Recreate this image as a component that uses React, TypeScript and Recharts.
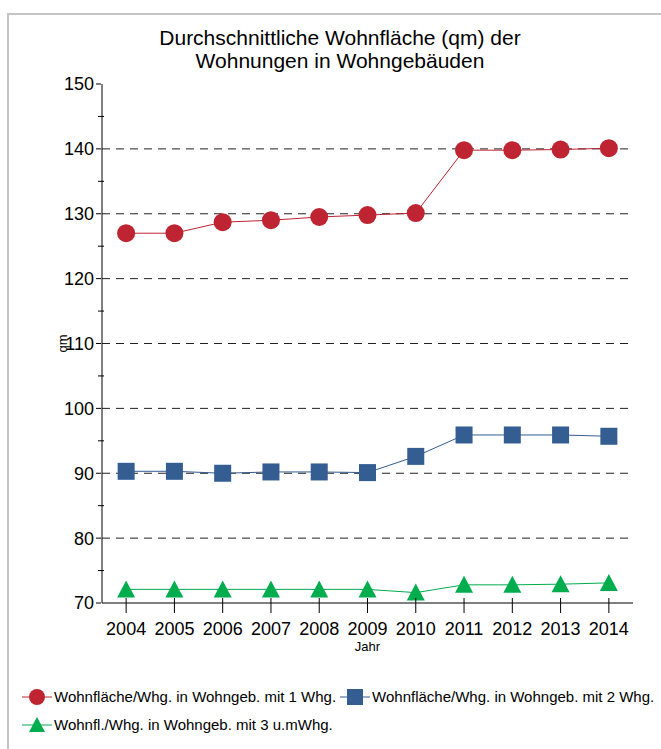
import { LineChart, Line, XAxis, YAxis, ReferenceLine } from 'recharts'

const years = ['2004', '2005', '2006', '2007', '2008', '2009', '2010', '2011', '2012', '2013', '2014']
const einWhg = [127.0, 127.0, 128.7, 129.0, 129.5, 129.8, 130.1, 139.8, 139.8, 139.9, 140.1]
const zweiWhg = [90.3, 90.3, 90.0, 90.2, 90.2, 90.1, 92.6, 95.9, 95.9, 95.9, 95.7]
const dreiWhg = [72.1, 72.1, 72.1, 72.1, 72.1, 72.1, 71.6, 72.8, 72.8, 72.9, 73.1]
const yTicks = [70, 75, 80, 85, 90, 95, 100, 105, 110, 115, 120, 125, 130, 135, 140, 145, 150]
const gridValues = [80, 90, 100, 110, 120, 130, 140]

const RED = '#be2431'
const BLUE = '#345d92'
const GREEN = '#00ad4e'
const FONT = '"Liberation Sans", Arial, sans-serif'

const data = years.map((year, i) => ({
  year,
  ein: einWhg[i],
  zwei: zweiWhg[i],
  drei: dreiWhg[i],
}))

function YTick({ x, y, payload }: any) {
  const ax = x + 7
  const major = payload.value % 10 === 0
  return (
    <g>
      {major ? (
        <line x1={ax - 5} x2={ax} y1={y} y2={y} stroke="#000" />
      ) : (
        <line x1={ax - 3} x2={ax + 3} y1={y} y2={y} stroke="#000" />
      )}
      {major && (
        <text x={x} y={y} dy="0.36em" textAnchor="end" fontSize={18} fontFamily={FONT} fill="#000">
          {payload.value}
        </text>
      )}
    </g>
  )
}

function XTick({ x, y, payload }: any) {
  const ay = y - 7
  return (
    <g>
      <line x1={x} x2={x} y1={ay - 6} y2={ay + 9} stroke="#000" />
      <text x={x} y={ay + 31} textAnchor="middle" fontSize={18} fontFamily={FONT} fill="#000">
        {payload.value}
      </text>
    </g>
  )
}

function Circle({ cx, cy }: any) {
  if (cx == null) return null
  return <circle cx={cx} cy={cy} r={9} fill={RED} />
}

function Square({ cx, cy }: any) {
  if (cx == null) return null
  return <rect x={cx - 8.5} y={cy - 8.5} width={17} height={17} fill={BLUE} />
}

function Triangle({ cx, cy }: any) {
  if (cx == null) return null
  return <polygon points={`${cx},${cy - 9} ${cx + 9},${cy + 8} ${cx - 9},${cy + 8}`} fill={GREEN} />
}

function LegendItem({ color, marker, label }: { color: string; marker: string; label: string }) {
  return (
    <span style={{ display: 'inline-flex', alignItems: 'center', marginRight: 2 }}>
      <svg width={34} height={20}>
        <line x1={2} x2={32} y1={10} y2={10} stroke={color} />
        {marker === 'circle' && <circle cx={17} cy={10} r={8} fill={color} />}
        {marker === 'square' && <rect x={9} y={2} width={16} height={16} fill={color} />}
        {marker === 'triangle' && <polygon points="17,2 25,17 9,17" fill={color} />}
      </svg>
      <span>{label}</span>
    </span>
  )
}

export default function App() {
  return (
    <div style={{ position: 'absolute', left: 0, top: 0, width: 661, height: 749, overflow: 'hidden', background: '#fff', fontFamily: FONT }}>
      <div style={{ position: 'absolute', left: 7, top: 13, width: 700, height: 800, border: '2px solid #c4c4c4' }} />
      <div style={{ position: 'absolute', left: 0, top: 26, width: 680, textAlign: 'center', fontSize: 21, lineHeight: '23px', color: '#000' }}>
        Durchschnittliche Wohnfläche (qm) der
        <br />
        Wohnungen in Wohngebäuden
      </div>
      <div style={{ position: 'absolute', left: 0, top: 0 }}>
        <LineChart width={661} height={749} data={data} margin={{ top: 84, right: 28, left: 42, bottom: 96 }}>
          <XAxis
            dataKey="year"
            scale="band"
            height={50}
            tickLine={false}
            tick={<XTick />}
            interval={0}
            axisLine={{ stroke: '#000' }}
            label={{ value: 'Jahr', position: 'insideBottom', offset: 2, fontSize: 13, fill: '#000', fontFamily: FONT }}
          />
          <XAxis xAxisId="top" dataKey="year" scale="band" orientation="top" height={0} tick={false} tickLine={false} axisLine={{ stroke: '#000' }} />
          <YAxis
            domain={[70, 150]}
            ticks={yTicks}
            width={60}
            tickLine={false}
            tick={<YTick />}
            interval={0}
            axisLine={{ stroke: '#000' }}
            label={{ value: 'qm', angle: -90, position: 'insideLeft', offset: 20, fontSize: 13, fill: '#000', fontFamily: FONT, style: { textAnchor: 'middle' } }}
          />
          <YAxis yAxisId="right" orientation="right" domain={[70, 150]} width={0} tick={false} tickLine={false} axisLine={{ stroke: '#000' }} />
          {gridValues.map((v) => (
            <ReferenceLine key={v} y={v} stroke="#222" strokeDasharray="8 6" />
          ))}
          <Line dataKey="ein" stroke={RED} strokeWidth={1} dot={<Circle />} isAnimationActive={false} />
          <Line dataKey="zwei" stroke={BLUE} strokeWidth={1} dot={<Square />} isAnimationActive={false} />
          <Line dataKey="drei" stroke={GREEN} strokeWidth={1} dot={<Triangle />} isAnimationActive={false} />
        </LineChart>
      </div>
      <div style={{ position: 'absolute', left: 20, top: 683, fontSize: 15, color: '#000', lineHeight: '28px' }}>
        <div style={{ whiteSpace: 'nowrap', height: 28 }}>
          <LegendItem color={RED} marker="circle" label="Wohnfläche/Whg. in Wohngeb. mit 1 Whg." />
          <LegendItem color={BLUE} marker="square" label="Wohnfläche/Whg. in Wohngeb. mit 2 Whg." />
        </div>
        <div style={{ height: 28 }}>
          <LegendItem color={GREEN} marker="triangle" label="Wohnfl./Whg. in Wohngeb. mit 3 u.mWhg." />
        </div>
      </div>
    </div>
  )
}
